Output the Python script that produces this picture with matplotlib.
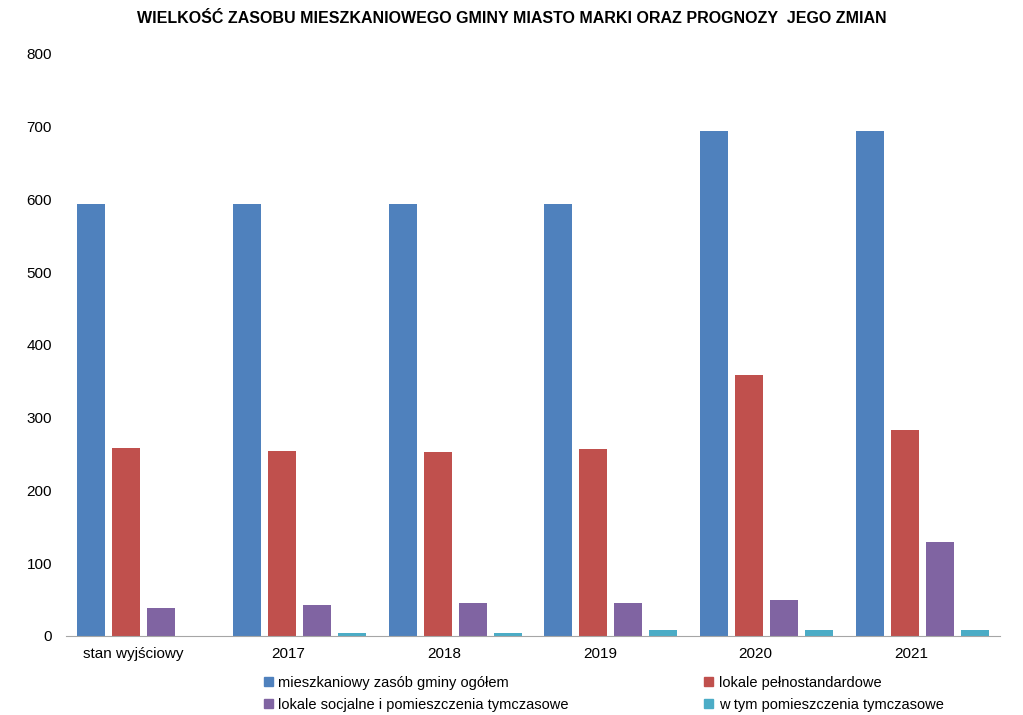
import numpy as np
import matplotlib.pyplot as plt
from matplotlib.patches import Patch

plt.rcParams['font.family'] = ['Liberation Sans', 'DejaVu Sans']

# Data
categories = ['stan wyjściowy', '2017', '2018', '2019', '2020', '2021']
series_names = ['mieszkaniowy zasób gminy ogółem', 'lokale pełnostandardowe',
                'lokale socjalne i pomieszczenia tymczasowe', 'w tym pomieszczenia tymczasowe']
zasob = [594, 594, 594, 594, 694, 694]
pelnostandardowe = [258, 254, 253, 257, 359, 283]
socjalne = [38, 43, 45, 46, 49, 129]
tymczasowe = [0, 4, 4, 8, 8, 8]
colors = ['#4F81BD', '#C0504D', '#8064A2', '#4BACC6']

fig = plt.figure(figsize=(10.23, 7.15), dpi=100)
ax = fig.add_axes([0.0645, 0.1105, 0.913, 0.814])

x = np.arange(len(categories))
w = 0.18
step = 0.225
all_series = [zasob, pelnostandardowe, socjalne, tymczasowe]
for i, vals in enumerate(all_series):
    ax.bar(x + (i - 1.5) * step, vals, width=w, color=colors[i], label=series_names[i])

ax.set_xlim(-0.5, len(categories) - 0.5)
ax.set_ylim(0, 800)
ax.set_yticks(range(0, 801, 100))
ax.set_xticks(x - 0.07)
ax.set_xticklabels(categories, fontsize=11)
ax.tick_params(axis='both', length=0, labelsize=11)
ax.tick_params(axis='x', pad=8)
ax.tick_params(axis='y', pad=10)
for s in ['top', 'right', 'left']:
    ax.spines[s].set_visible(False)
ax.spines['bottom'].set_color('#A6A6A6')

fig.text(0.5, 0.985, 'WIELKOŚĆ ZASOBU MIESZKANIOWEGO GMINY MIASTO MARKI ORAZ PROGNOZY  JEGO ZMIAN',
         ha='center', va='top', fontsize=11.5, fontweight='bold',
         family=['Liberation Sans Narrow', 'Liberation Sans', 'DejaVu Sans'])

handles = [Patch(color=colors[i]) for i in range(4)]
order = [0, 2, 1, 3]
fig.legend([handles[i] for i in order], [series_names[i] for i in order],
           ncol=2, loc='lower left', bbox_to_anchor=(0.245, -0.014), frameon=False,
           fontsize=10.5, handlelength=0.6, handleheight=0.6, handletextpad=0.4,
           columnspacing=9.3, labelspacing=0.55)

fig.savefig('out.png', dpi=100)
